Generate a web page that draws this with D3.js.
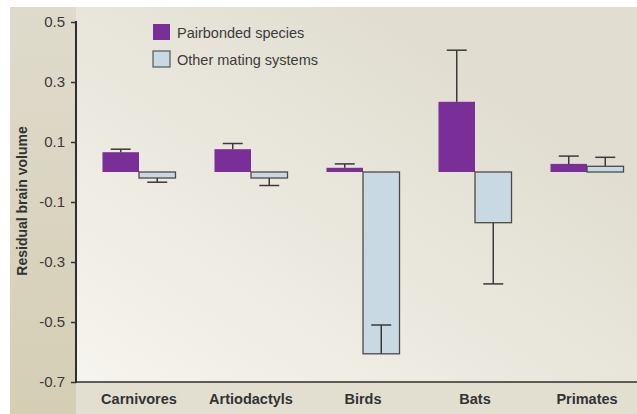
<!DOCTYPE html>
<html>
<head>
<meta charset="utf-8">
<script src="https://cdn.jsdelivr.net/npm/d3@7"></script>
<style>
  body { margin: 0; background: #fff; }
  svg { display: block; font-family: "Liberation Sans", Arial, sans-serif; }
</style>
</head>
<body>
<script>
"use strict";

// categories and series
var categories = ["Carnivores", "Artiodactyls", "Birds", "Bats", "Primates"];
var seriesNames = ["Pairbonded species", "Other mating systems"];
var pairbonded = [0.066, 0.076, 0.014, 0.234, 0.027];
var pairbondedErr = [0.076, 0.095, 0.027, 0.406, 0.053];   // end of error bar
var other = [-0.020, -0.020, -0.606, -0.169, 0.019];
var otherErr = [-0.034, -0.045, -0.510, -0.373, 0.049];
var yTicks = [-0.7, -0.5, -0.3, -0.1, 0.1, 0.3, 0.5];

var colors = ["#7a2e97", "#c9d9e4"];

var W = 637, H = 414;
var margin = {top: 22, left: 76, bottom: 382};

var data = categories.map(function(c, i) {
  return {
    cat: c,
    values: [
      {s: 0, v: pairbonded[i], e: pairbondedErr[i]},
      {s: 1, v: other[i], e: otherErr[i]}
    ]
  };
});

var svg = d3.select("body").append("svg")
    .attr("width", W)
    .attr("height", H);

// background
var defs = svg.append("defs");
var g1 = defs.append("linearGradient").attr("id", "plotbg")
    .attr("x1", "0").attr("y1", "1").attr("x2", "0.75").attr("y2", "0.25");
g1.append("stop").attr("offset", "0").attr("stop-color", "#f6f4ee");
g1.append("stop").attr("offset", "1").attr("stop-color", "#e1ded1");
var g2 = defs.append("linearGradient").attr("id", "leftbg")
    .attr("x1", "0").attr("y1", "0").attr("x2", "0").attr("y2", "1");
g2.append("stop").attr("offset", "0").attr("stop-color", "#dfdbcc");
g2.append("stop").attr("offset", "1").attr("stop-color", "#d5ceb5");

svg.append("rect").attr("x", 10).attr("y", 7)
    .attr("width", W - 10).attr("height", H - 7)
    .attr("fill", "#e2dfd1");
svg.append("rect").attr("x", 10).attr("y", 7)
    .attr("width", margin.left - 10).attr("height", H - 7)
    .attr("fill", "url(#leftbg)");
svg.append("rect").attr("x", margin.left).attr("y", 7)
    .attr("width", W - margin.left).attr("height", margin.bottom - 7)
    .attr("fill", "url(#plotbg)");

// scales
var y = d3.scaleLinear()
    .domain([-0.7, 0.5])
    .range([margin.bottom, margin.top]);

var x0 = d3.scaleBand()
    .domain(categories)
    .range([63.5, 662.5])
    .paddingInner(0.348)
    .paddingOuter(0.348);

var x1 = d3.scaleBand()
    .domain([0, 1])
    .range([0, x0.bandwidth()]);

// bars
var groups = svg.append("g").selectAll("g")
    .data(data)
  .enter().append("g")
    .attr("transform", function(d) { return "translate(" + x0(d.cat) + ",0)"; });

groups.selectAll("rect")
    .data(function(d) { return d.values; })
  .enter().append("rect")
    .attr("x", function(d) { return x1(d.s); })
    .attr("y", function(d) { return y(Math.max(0, d.v)); })
    .attr("width", x1.bandwidth())
    .attr("height", function(d) { return Math.abs(y(d.v) - y(0)); })
    .attr("fill", function(d) { return colors[d.s]; })
    .attr("stroke", function(d) { return d.s === 1 ? "#4a4a4a" : "none"; })
    .attr("stroke-width", 1.3);

// error bars
var cap = 10;
var err = groups.selectAll("g.err")
    .data(function(d) { return d.values; })
  .enter().append("g")
    .attr("class", "err")
    .attr("stroke", "#3a3a3a")
    .attr("stroke-width", 1.5);
err.append("line")
    .attr("x1", function(d) { return x1(d.s) + x1.bandwidth() / 2; })
    .attr("x2", function(d) { return x1(d.s) + x1.bandwidth() / 2; })
    .attr("y1", function(d) { return y(d.v); })
    .attr("y2", function(d) { return y(d.e); });
err.append("line")
    .attr("x1", function(d) { return x1(d.s) + x1.bandwidth() / 2 - cap; })
    .attr("x2", function(d) { return x1(d.s) + x1.bandwidth() / 2 + cap; })
    .attr("y1", function(d) { return y(d.e); })
    .attr("y2", function(d) { return y(d.e); });

// y axis
var yAxis = d3.axisLeft(y)
    .tickValues(yTicks)
    .tickSize(5)
    .tickPadding(6)
    .tickFormat(function(d) { return d.toFixed(1); });

var gY = svg.append("g")
    .attr("transform", "translate(" + margin.left + ",0)")
    .call(yAxis);
gY.select(".domain").remove();
gY.selectAll(".tick line").attr("stroke", "#333").attr("stroke-width", 1.5);
gY.selectAll(".tick text")
    .attr("fill", "#3a3a3a")
    .style("font-size", "15px");

svg.append("line")
    .attr("x1", margin.left).attr("x2", margin.left)
    .attr("y1", y(0.5) - 1).attr("y2", margin.bottom + 1)
    .attr("stroke", "#2e2e2e").attr("stroke-width", 2);

// x axis line
svg.append("line")
    .attr("x1", margin.left).attr("x2", W)
    .attr("y1", margin.bottom).attr("y2", margin.bottom)
    .attr("stroke", "#2e2e2e").attr("stroke-width", 1.6);

// category labels
svg.append("g").selectAll("text")
    .data(categories)
  .enter().append("text")
    .attr("x", function(d) { return x0(d) + x0.bandwidth() / 2; })
    .attr("y", 404)
    .attr("text-anchor", "middle")
    .attr("fill", "#333")
    .style("font-size", "14.5px")
    .style("font-weight", "bold")
    .text(function(d) { return d; });

// y label
svg.append("text")
    .attr("transform", "translate(27,201) rotate(-90)")
    .attr("text-anchor", "middle")
    .attr("fill", "#333")
    .style("font-size", "14px")
    .style("font-weight", "bold")
    .text("Residual brain volume");

// legend
var legend = svg.append("g").selectAll("g")
    .data(seriesNames)
  .enter().append("g")
    .attr("transform", function(d, i) { return "translate(153," + (24 + i * 27) + ")"; });
legend.append("rect")
    .attr("width", 17).attr("height", 16)
    .attr("fill", function(d, i) { return colors[i]; })
    .attr("stroke", function(d, i) { return i === 1 ? "#555" : "none"; })
    .attr("stroke-width", 1.2);
legend.append("text")
    .attr("x", 24).attr("y", 14)
    .attr("fill", "#3c3c3c")
    .style("font-size", "14.5px")
    .text(function(d) { return d; });
</script>
</body>
</html>
